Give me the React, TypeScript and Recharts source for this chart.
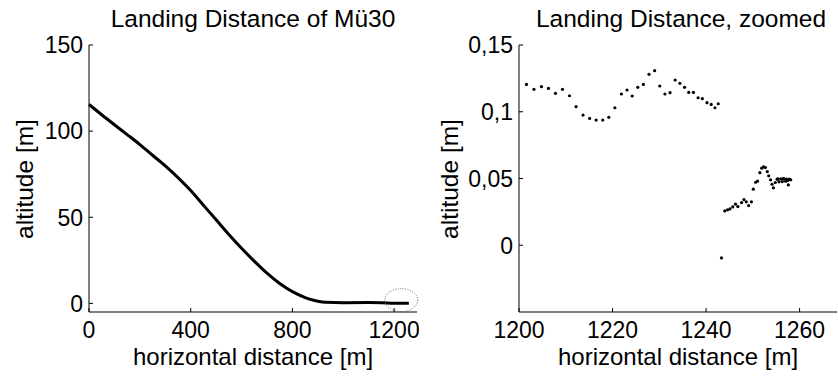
import { LineChart, Line, ScatterChart, Scatter, XAxis, YAxis, ReferenceDot } from "recharts"

const FONT = "'Liberation Sans', Arial, Helvetica, sans-serif"

// glide path, whole landing
const glideX = [0, 50, 100, 150, 200, 250, 300, 350, 400, 450, 500, 550, 600, 650, 700, 750, 800, 850, 900, 930, 1000, 1100, 1150, 1200, 1258]
const glideY = [115.5, 109.5, 103.7, 98, 92.2, 86, 79.8, 73, 65.5, 57, 48.5, 40, 32, 24.5, 17.5, 11.5, 6.8, 3.4, 1.2, 0.6, 0.4, 0.5, 0.4, 0.12, 0.05]

// zoomed samples near touchdown
const zoomX = [
  1201.6, 1203.2, 1204.8, 1206.3, 1207.8, 1209.3, 1210.8, 1212.2, 1213.7, 1215.1, 1216.5, 1217.9,
  1219.2, 1220.5, 1221.9, 1223.1, 1224.2, 1225.4, 1226.6, 1227.8, 1229.0, 1230.1, 1231.2, 1232.3,
  1233.4, 1234.4, 1235.4, 1236.3, 1237.3, 1238.3, 1239.2, 1240.2, 1241.1, 1241.9, 1242.6,
  1243.3,
  1244.0, 1244.6, 1245.1, 1245.7, 1246.3, 1246.8, 1247.6, 1248.1, 1248.6, 1249.1, 1249.7, 1250.1,
  1250.6, 1251.0, 1251.5, 1251.9, 1252.3, 1252.7, 1253.1, 1253.4, 1253.8, 1254.1, 1254.4, 1254.8,
  1255.2, 1255.6, 1256.0, 1256.3, 1256.7, 1257.0, 1257.4, 1257.8, 1257.6, 1255.4, 1256.5, 1257.2, 1258.1,
]
const zoomY = [
  0.1205, 0.1168, 0.1188, 0.1175, 0.1138, 0.1168, 0.112, 0.1038, 0.0975, 0.095, 0.0938, 0.0938,
  0.0958, 0.103, 0.1133, 0.1163, 0.1118, 0.1183, 0.1205, 0.128, 0.1308, 0.1193, 0.1133, 0.1143,
  0.1238, 0.1213, 0.1183, 0.1145, 0.1145, 0.1105, 0.1098, 0.1068, 0.1055, 0.103, 0.106,
  -0.0095,
  0.0257, 0.0265, 0.0272, 0.0287, 0.0308, 0.029, 0.032, 0.0342, 0.0325, 0.0297, 0.0325, 0.042,
  0.0472, 0.048, 0.0544, 0.0577, 0.0587, 0.0582, 0.0552, 0.052, 0.049, 0.0457, 0.043, 0.047,
  0.0495, 0.0475, 0.0497, 0.0477, 0.0497, 0.048, 0.0484, 0.0495, 0.0452, 0.0497, 0.05, 0.0495, 0.049,
]

const leftXTicks = [0, 400, 800, 1200]
const leftYTicks = [0, 50, 100, 150]
const rightXTicks = [1200, 1220, 1240, 1260]
const rightYTicks = [0, 0.05, 0.1, 0.15]

const glideData = glideX.map((x, i) => ({ x, y: glideY[i] }))
const zoomData = zoomX.map((x, i) => ({ x, y: zoomY[i] }))

const fmtComma = (v: number) => String(v).replace(".", ",")

function XTick(props: any) {
  const { x, y, payload } = props
  return (
    <g>
      <line x1={x} x2={x} y1={y} y2={y - 4} stroke="#000" />
      <text x={x} y={y + 26} textAnchor="middle" fontSize={23} fontFamily={FONT} fill="#000">
        {payload.value}
      </text>
    </g>
  )
}

function YTick(props: any) {
  const { x, y, payload, fmt } = props
  return (
    <g>
      <line x1={x} x2={x + 4} y1={y} y2={y} stroke="#000" />
      <text x={x - 6} y={y} dy="0.36em" textAnchor="end" fontSize={23} fontFamily={FONT} fill="#000">
        {fmt ? fmt(payload.value) : payload.value}
      </text>
    </g>
  )
}

function Ellipse(props: any) {
  return <ellipse cx={props.cx} cy={props.cy} rx={16.5} ry={11.5} fill="none" stroke="#666" strokeDasharray="1 1.5" />
}

function Dot(props: any) {
  return <circle cx={props.cx} cy={props.cy} r={1.6} fill="#000" />
}

export default function App() {
  return (
    <div style={{ position: "absolute", left: 0, top: 0, width: 838, height: 376, background: "#fff" }}>
      <div style={{ position: "absolute", left: 0, top: 0 }}>
        <LineChart width={419} height={376} data={glideData} margin={{ top: 45, right: 2, left: 29, bottom: 24 }}>
          <XAxis
            type="number"
            dataKey="x"
            domain={[0, 1290]}
            ticks={leftXTicks}
            interval={0}
            height={40}
            tickSize={0}
            tickMargin={0}
            tickLine={false}
            axisLine={{ stroke: "#000" }}
            tick={<XTick />}
          />
          <YAxis
            type="number"
            domain={[-5, 150]}
            ticks={leftYTicks}
            interval={0}
            width={60}
            tickSize={0}
            tickMargin={0}
            tickLine={false}
            axisLine={{ stroke: "#000" }}
            tick={<YTick />}
          />
          <Line type="monotone" dataKey="y" stroke="#000" strokeWidth={3} dot={false} isAnimationActive={false} />
          <ReferenceDot x={1228} y={1.9} shape={<Ellipse />} />
        </LineChart>
      </div>
      <div style={{ position: "absolute", left: 419, top: 0 }}>
        <ScatterChart width={419} height={376} margin={{ top: 45, right: 1, left: 40, bottom: 24 }}>
          <XAxis
            type="number"
            dataKey="x"
            domain={[1200, 1268]}
            ticks={rightXTicks}
            interval={0}
            height={40}
            tickSize={0}
            tickMargin={0}
            tickLine={false}
            axisLine={{ stroke: "#000" }}
            tick={<XTick />}
          />
          <YAxis
            type="number"
            dataKey="y"
            domain={[-0.05, 0.15]}
            ticks={rightYTicks}
            interval={0}
            width={60}
            tickSize={0}
            tickMargin={0}
            tickLine={false}
            axisLine={{ stroke: "#000" }}
            tick={<YTick fmt={fmtComma} />}
          />
          <Scatter data={zoomData} shape={<Dot />} isAnimationActive={false} />
        </ScatterChart>
      </div>
      <svg width={838} height={376} style={{ position: "absolute", left: 0, top: 0, pointerEvents: "none" }}>
        <g fontFamily={FONT} fill="#000" fontSize={24.5}>
          <text x={253} y={27} textAnchor="middle">Landing Distance of Mü30</text>
          <text x={681} y={27} textAnchor="middle">Landing Distance, zoomed</text>
          <text x={253} y={365} textAnchor="middle" fontSize={24}>horizontal distance [m]</text>
          <text x={678} y={365} textAnchor="middle" fontSize={24}>horizontal distance [m]</text>
          <text x={33} y={179} textAnchor="middle" transform="rotate(-90 33 179)">altitude [m]</text>
          <text x={458} y={179} textAnchor="middle" transform="rotate(-90 458 179)">altitude [m]</text>
        </g>
      </svg>
    </div>
  )
}
